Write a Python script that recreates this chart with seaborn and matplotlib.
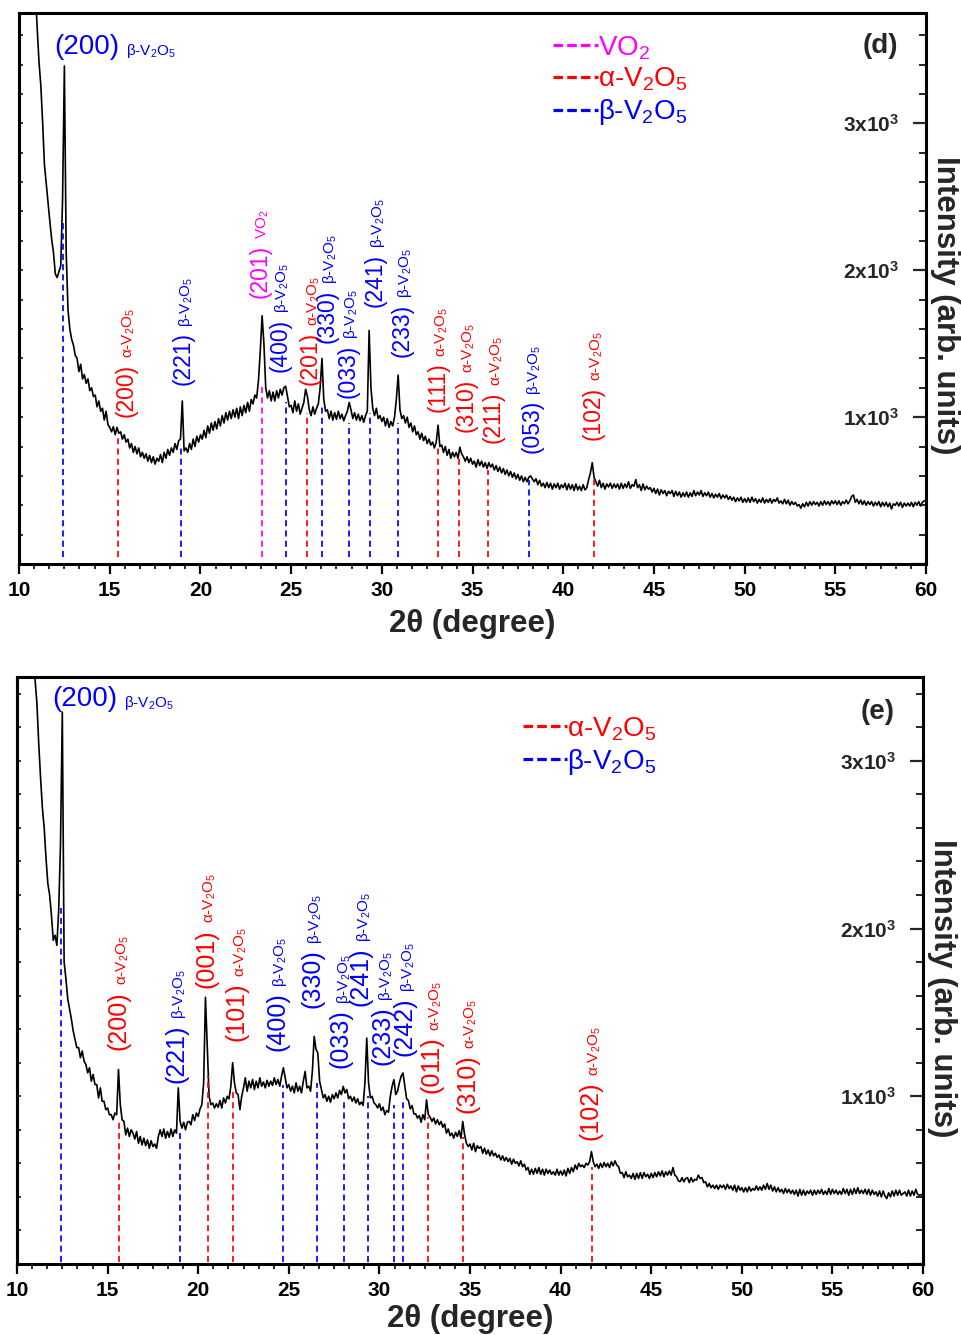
import numpy as np
import pandas as pd
import seaborn as sns
import matplotlib
matplotlib.use('Agg')
import matplotlib.pyplot as plt
from matplotlib.lines import Line2D
from matplotlib.ticker import MultipleLocator, AutoMinorLocator, FuncFormatter

sns.set_theme(style='white')
plt.rcParams['font.family'] = ['Liberation Sans', 'DejaVu Sans']
plt.rcParams['mathtext.fontset'] = 'custom'
plt.rcParams['mathtext.rm'] = 'Liberation Sans'
plt.rcParams['mathtext.it'] = 'Liberation Sans:italic'
plt.rcParams['mathtext.bf'] = 'Liberation Sans:bold'
plt.rcParams['mathtext.default'] = 'regular'

# ---------------- data: panel (d) ----------------
tt_d = np.linspace(10.8, 60.0, 493)
int_d = (
    [4200, 3900]
    + [3650, 3420, 3260, 3010, 2720, 2590, 2460, 2330, 2210, 2120]   # 11
    + [1975, 1950, 1990, 2030, 2480, 3390, 2120, 1730, 1600, 1530]   # 12
    + [1490, 1420, 1400, 1310, 1360, 1260, 1290, 1230, 1260, 1180]   # 13
    + [1200, 1140, 1150, 1070, 1110, 1040, 1060, 980, 1040, 950]     # 14
    + [930, 900, 935, 880, 930, 890, 900, 850, 880, 830]             # 15
    + [850, 790, 820, 760, 800, 750, 790, 730, 760, 720]             # 16
    + [750, 700, 740, 690, 730, 680, 720, 700, 745, 690]             # 17
    + [760, 720, 780, 740, 790, 760, 820, 780, 840, 850]             # 18
    + [1110, 770, 790, 760, 820, 780, 850, 800, 870, 830]            # 19
    + [880, 850, 910, 860, 940, 890, 960, 910, 970, 920]             # 20
    + [990, 940, 1010, 960, 1030, 980, 1040, 990, 1050, 1000]        # 21
    + [1060, 990, 1070, 1010, 1080, 1030, 1100, 1040, 1120, 1090]    # 22
    + [1150, 1130, 1250, 1450, 1690, 1500, 1200, 1130, 1180, 1110]   # 23
    + [1170, 1110, 1180, 1130, 1190, 1150, 1200, 1210, 1140, 1070]   # 24
    + [1080, 1030, 1110, 1040, 1090, 1020, 1060, 1100, 1190, 1140]   # 25
    + [1050, 1010, 1070, 1020, 1060, 1090, 1200, 1400, 1120, 1040]   # 26
    + [1050, 990, 1040, 980, 1030, 985, 1040, 990, 1020, 975]        # 27
    + [1010, 1040, 1100, 1050, 990, 1030, 980, 1020, 975, 1010]      # 28
    + [965, 1010, 1040, 1590, 1200, 1060, 1010, 1060, 990, 1010]     # 29
    + [970, 1000, 940, 990, 930, 970, 940, 1000, 1120, 1286]         # 30
    + [1050, 990, 1010, 960, 1000, 930, 960, 900, 940, 880]          # 31
    + [900, 850, 890, 840, 870, 820, 850, 810, 830, 790]             # 32
    + [830, 945, 800, 810, 760, 800, 740, 780, 720, 760]             # 33
    + [730, 760, 720, 795, 750, 730, 700, 730, 690, 720]             # 34
    + [680, 700, 660, 710, 670, 700, 660, 690, 650, 690]             # 35
    + [660, 680, 640, 670, 630, 660, 620, 650, 610, 640]             # 36
    + [600, 630, 590, 620, 580, 610, 570, 600, 560, 590]             # 37
    + [560, 590, 600, 580, 560, 580, 540, 570, 530, 550]             # 38
    + [520, 555, 520, 550, 510, 545, 520, 550, 510, 540]             # 39
    + [520, 550, 505, 545, 510, 540, 500, 545, 505, 530]             # 40
    + [500, 540, 505, 520, 575, 620, 690, 590, 560, 530]             # 41
    + [570, 520, 550, 510, 545, 525, 550, 515, 545, 520]             # 42
    + [545, 510, 550, 515, 545, 520, 560, 515, 540, 530]             # 43
    + [575, 520, 540, 500, 545, 505, 530, 510, 520, 490]             # 44
    + [515, 480, 510, 470, 505, 480, 500, 465, 495, 480]             # 45
    + [500, 460, 495, 465, 490, 455, 485, 460, 490, 455]             # 46
    + [485, 460, 500, 465, 490, 470, 500, 460, 485, 465]             # 47
    + [490, 455, 480, 450, 475, 455, 480, 445, 470, 450]             # 48
    + [470, 440, 460, 435, 455, 425, 450, 430, 455, 420]             # 49
    + [445, 420, 450, 420, 455, 425, 445, 415, 440, 420]             # 50
    + [450, 415, 440, 420, 445, 415, 440, 425, 450, 415]             # 51
    + [430, 410, 440, 410, 435, 400, 425, 405, 420, 395]             # 52
    + [405, 380, 410, 390, 420, 395, 425, 400, 425, 405]             # 53
    + [420, 395, 425, 400, 430, 405, 425, 400, 430, 410]             # 54
    + [430, 405, 430, 400, 425, 410, 435, 410, 430, 460]             # 55
    + [470, 420, 440, 410, 435, 405, 430, 400, 425, 405]             # 56
    + [425, 395, 420, 400, 425, 390, 420, 395, 420, 390]             # 57
    + [415, 375, 410, 400, 420, 395, 420, 385, 415, 395]             # 58
    + [415, 395, 420, 390, 420, 400, 425, 395, 420, 430]             # 59
    + [435]
)
peak_pos_d = [12.44, 15.44, 18.93, 23.38, 24.70, 25.86, 26.68, 28.21, 29.35, 30.88, 33.08, 34.27, 35.87, 38.13, 41.71]
peak_top_d = [2320, 857, 789, 1231, 1104, 1027, 1070, 959, 1029, 959, 798, 730, 639, 571, 594]
peak_phase_d = ['b', 'a', 'b', 'v', 'b', 'a', 'b', 'b', 'b', 'b', 'a', 'a', 'a', 'b', 'a']
peak_hkl_d = ['(200)', '(200)', '(221)', '(201)', '(400)', '(201)', '(330)', '(033)', '(241)', '(233)',
              '(111)', '(310)', '(211)', '(053)', '(102)']

# ---------------- data: panel (e) ----------------
tt_e = np.linspace(10.9, 60.0, 492)
int_e = (
    [3800]
    + [3480, 3340, 3100, 2900, 2720, 2600, 2420, 2270, 2200, 2080]   # 11
    + [1930, 1960, 1900, 2110, 2500, 3290, 1800, 1700, 1580, 1520]   # 12
    + [1460, 1390, 1340, 1290, 1290, 1230, 1270, 1210, 1190, 1140]   # 13
    + [1170, 1090, 1130, 1070, 1070, 990, 1050, 970, 970, 920]       # 14
    + [930, 890, 890, 860, 900, 890, 1160, 950, 860, 850]            # 15
    + [770, 810, 760, 800, 780, 745, 790, 720, 760, 710]             # 16
    + [750, 705, 740, 690, 735, 700, 715, 690, 760, 800]             # 17
    + [760, 805, 750, 790, 755, 805, 760, 800, 780, 1050]            # 18
    + [850, 810, 845, 800, 845, 850, 830, 890, 855, 900]             # 19
    + [880, 925, 950, 1080, 1590, 1300, 1000, 950, 960, 930]         # 20
    + [955, 935, 975, 930, 990, 960, 1000, 985, 1060, 1200]          # 21
    + [1080, 1020, 1010, 920, 1000, 1050, 1110, 1030, 1090, 1050]    # 22
    + [1100, 1040, 1090, 1050, 1110, 1060, 1085, 1050, 1095, 1060]   # 23
    + [1090, 1065, 1110, 1070, 1100, 1060, 1120, 1170, 1110, 1050]   # 24
    + [1070, 1030, 1060, 1020, 1080, 1030, 1060, 1020, 1090, 1148]   # 25
    + [1050, 1060, 1030, 1150, 1357, 1280, 1258, 1090, 1040, 990]    # 26
    + [1010, 970, 1000, 965, 1010, 985, 1020, 990, 1035, 1010]       # 27
    + [1059, 1020, 1040, 985, 1000, 970, 995, 960, 985, 950]         # 28
    + [965, 945, 1079, 1347, 1080, 990, 1000, 960, 950, 930]         # 29
    + [955, 915, 935, 890, 915, 905, 999, 1060, 1099, 1010]          # 30
    + [1030, 1080, 1120, 1139, 1060, 985, 975, 925, 945, 895]        # 31
    + [895, 870, 885, 845, 890, 860, 979, 890, 875, 850]             # 32
    + [870, 835, 860, 830, 850, 815, 835, 780, 805, 765]             # 33
    + [780, 750, 785, 760, 795, 750, 850, 770, 720, 700]             # 34
    + [715, 680, 720, 670, 705, 690, 700, 660, 690, 655]             # 35
    + [680, 645, 675, 645, 660, 635, 650, 620, 645, 615]             # 36
    + [635, 610, 630, 595, 625, 600, 610, 585, 615, 580]             # 37
    + [595, 560, 575, 535, 565, 535, 570, 540, 575, 535]             # 38
    + [565, 530, 565, 540, 560, 535, 550, 530, 565, 530]             # 39
    + [555, 530, 560, 525, 570, 540, 575, 550, 590, 565]             # 40
    + [600, 580, 590, 575, 600, 590, 610, 670, 610, 580]             # 41
    + [595, 570, 600, 575, 605, 580, 600, 575, 610, 585]             # 42
    + [615, 590, 580, 540, 545, 515, 550, 520, 530, 510]             # 43
    + [540, 505, 540, 510, 545, 510, 545, 520, 535, 510]             # 44
    + [540, 515, 545, 520, 550, 525, 555, 520, 550, 530]             # 45
    + [555, 530, 575, 530, 520, 495, 491, 515, 490, 510]             # 46
    + [515, 485, 515, 490, 505, 500, 530, 510, 515, 485]             # 47
    + [490, 460, 480, 455, 470, 450, 470, 445, 470, 455]             # 48
    + [470, 445, 475, 450, 465, 440, 470, 430, 465, 440]             # 49
    + [455, 430, 455, 430, 460, 435, 450, 440, 465, 440]             # 50
    + [460, 440, 470, 445, 480, 445, 470, 435, 460, 430]             # 51
    + [455, 430, 445, 420, 450, 425, 445, 420, 440, 415]             # 52
    + [440, 405, 445, 410, 440, 410, 435, 420, 440, 410]             # 53
    + [440, 415, 440, 420, 445, 415, 435, 415, 450, 415]             # 54
    + [445, 420, 440, 415, 435, 415, 450, 420, 445, 410]             # 55
    + [445, 415, 450, 420, 455, 420, 440, 420, 445, 415]             # 56
    + [445, 410, 440, 415, 430, 405, 435, 400, 435, 405]             # 57
    + [390, 425, 400, 435, 405, 440, 410, 440, 410, 420]             # 58
    + [430, 405, 440, 405, 435, 410, 445, 415, 410, 412]             # 59
    + [420]
)
peak_pos_e = [12.43, 15.63, 19.00, 20.52, 21.94, 24.66, 26.54, 28.03, 29.35, 30.82, 31.28, 32.68, 34.60, 41.72]
peak_top_e = [2125, 860, 800, 1118, 1049, 1069, 1079, 969, 999, 949, 989, 879, 760, 581]
peak_phase_e = ['b', 'a', 'b', 'a', 'a', 'b', 'b', 'b', 'b', 'b', 'b', 'a', 'a', 'a']
peak_hkl_e = ['(200)', '(200)', '(221)', '(001)', '(101)', '(400)', '(330)', '(033)', '(241)', '(233)',
              '(242)', '(011)', '(310)', '(102)']

assert len(tt_d) == len(int_d), (len(tt_d), len(int_d))
assert len(tt_e) == len(int_e), (len(tt_e), len(int_e))

phase_text = {'a': 'α-V$_2$O$_5$', 'b': 'β-V$_2$O$_5$', 'v': 'VO$_2$'}
phase_color = {'a': '#FF0000', 'b': '#0000FF', 'v': '#FF00FF'}

# ---------------- layout (label anchors, data coords) ----------------
label_xy_d = [(11.93, 3429), (15.93, 1000), (19.10, 1218), (23.32, 1810), (24.42, 1306), (26.10, 1218),
              (27.03, 1503), (28.19, 1129), (29.68, 1750), (31.17, 1410), (33.15, 1036), (34.68, 900),
              (36.19, 821), (38.31, 753), (41.70, 844)]
label_xy_e = [(11.93, 3291), (15.63, 1278), (18.81, 1079), (20.47, 1648), (22.13, 1330), (24.38, 1268),
              (26.31, 1527), (27.88, 1168), (28.98, 1537), (30.20, 1188), (31.41, 1238), (32.89, 1019),
              (34.86, 900), (41.68, 740)]

fig = plt.figure(figsize=(9.61, 13.35), dpi=100)
ax_d = fig.add_axes([0.0198, 0.5775, 0.9438, 0.4127])
ax_e = fig.add_axes([0.0177, 0.0532, 0.9428, 0.4397])

SPINE_W = 2.2


def draw_panel(ax, tt, inten, ymax, pos, top, phase, hkl, lab_xy, line_bottom,
               fs_hkl, fs_top, panel, legend_keys, legend_anchor, xlabel_y, ylabel_y):
    sns.lineplot(x=tt, y=inten, ax=ax, color='black', lw=1.2, estimator=None, sort=False)
    ax.vlines(pos, line_bottom, top, colors=[phase_color[p] for p in phase],
              linestyles=(0, (3.5, 2.4)), lw=1.25, zorder=3)
    ax.set_xlim(10, 60)
    ax.set_ylim(0, ymax)

    fs_phase = 11
    for i, (h, p, (lx, ly)) in enumerate(zip(hkl, phase, lab_xy)):
        c = phase_color[p]
        if i == 0:
            t = ax.annotate(h, xy=(lx, ly), xycoords='data', ha='left', va='bottom',
                            fontsize=fs_top, color=c, annotation_clip=False)
            ax.annotate(phase_text[p], xy=(1, 0), xycoords=t, xytext=(5, 0),
                        textcoords='offset points', ha='left', va='bottom',
                        fontsize=fs_phase, color=c, annotation_clip=False)
        else:
            t = ax.annotate(h, xy=(lx, ly), xycoords='data', xytext=(0.47 * fs_hkl, 0),
                            textcoords='offset points', rotation=90, rotation_mode='anchor',
                            ha='left', va='bottom', fontsize=fs_hkl, color=c, annotation_clip=False)
            ax.annotate(phase_text[p], xy=(1, 1), xycoords=t, xytext=(0, 4),
                        textcoords='offset points', rotation=90, rotation_mode='anchor',
                        ha='left', va='bottom', fontsize=fs_phase, color=c, annotation_clip=False)

    # legend
    handles = [Line2D([], [], color=phase_color[k], lw=2.3, ls=(0, (3, 1.3))) for k in legend_keys]
    labels = [phase_text[k] for k in legend_keys]
    ax.legend(handles, labels, loc='upper left', bbox_to_anchor=legend_anchor, frameon=False,
              fontsize=20, handlelength=1.6, handletextpad=0.0, labelspacing=0.15,
              borderpad=0, borderaxespad=0, labelcolor=[phase_color[k] for k in legend_keys])

    ax.text(0.95, 0.94, panel, transform=ax.transAxes, ha='center', va='center',
            fontsize=20, fontweight='bold')

    # spines
    for s in ax.spines.values():
        s.set_linewidth(SPINE_W)
        s.set_color('black')
        s.set_visible(True)

    # x axis
    ax.xaxis.set_major_locator(MultipleLocator(5))
    ax.xaxis.set_minor_locator(AutoMinorLocator(6))
    ax.tick_params(axis='x', which='major', direction='out', length=7, width=1.6,
                   labelsize=15, pad=5, bottom=True, top=False, colors='black')
    ax.tick_params(axis='x', which='minor', direction='out', length=3.6, width=1.4,
                   bottom=True, top=False)
    ax.set_xlabel('2θ (degree)', fontsize=22.5, fontweight='bold')
    ax.xaxis.set_label_coords(0.5, xlabel_y)

    # y axis on the right, ticks + labels inside
    ax.yaxis.tick_right()
    ax.yaxis.set_major_locator(MultipleLocator(1000))
    ax.yaxis.set_minor_locator(MultipleLocator(200))
    ax.yaxis.set_major_formatter(FuncFormatter(lambda v, _: '' if v <= 0 else f'{int(round(v / 1000))}x10$^{{3}}$'))
    ax.tick_params(axis='y', which='major', direction='in', length=9.4, width=1.6,
                   labelsize=15, pad=-19, left=False, right=True, labelleft=False, labelright=True)
    ax.tick_params(axis='y', which='minor', direction='in', length=4.7, width=1.4,
                   left=False, right=True)
    ax.yaxis.set_label_position('right')
    ax.set_ylabel('Intensity (arb. units)', fontsize=22.5, fontweight='bold',
                  rotation=270, va='bottom', ha='center')
    ax.yaxis.set_label_coords(1.004, ylabel_y)

    # short inner ticks on the left spine
    sec = ax.secondary_yaxis('left')
    sec.yaxis.set_major_locator(MultipleLocator(200))
    sec.tick_params(axis='y', direction='in', length=2.6, width=1.3, labelleft=False)
    sec.spines['left'].set_linewidth(SPINE_W)
    ax.grid(False)


draw_panel(ax_d, tt_d, int_d, 3750, peak_pos_d, peak_top_d, peak_phase_d, peak_hkl_d, label_xy_d,
           50, 16.5, 20, '(d)', ['v', 'a', 'b'], (0.589, 0.962), -0.082, 0.47)
draw_panel(ax_e, tt_e, int_e, 3500, peak_pos_e, peak_top_e, peak_phase_e, peak_hkl_e, label_xy_e,
           12, 18, 20, '(e)', ['a', 'b'], (0.558, 0.935), -0.069, 0.47)

fig.canvas.draw()
for ax in (ax_d, ax_e):
    for lbl in ax.get_xticklabels() + ax.get_yticklabels():
        lbl.set_fontweight('bold')
    for lbl in ax.get_yticklabels():
        lbl.set_horizontalalignment('right')

fig.savefig('out.png', dpi=100, facecolor='white')
